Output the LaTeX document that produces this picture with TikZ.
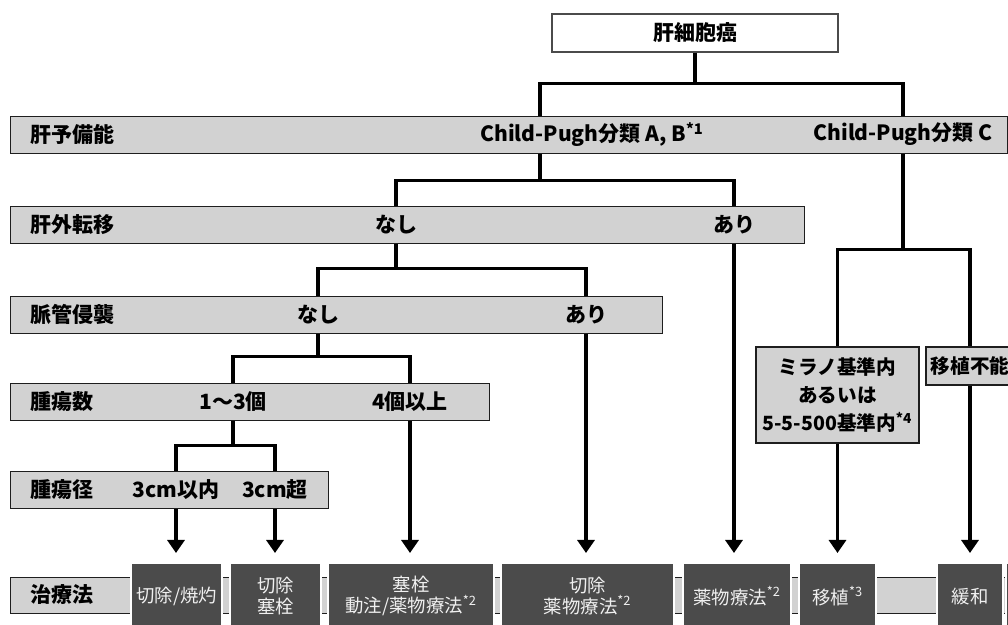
\documentclass[tikz,border=0pt]{standalone}
\usepackage{fontspec}
\setmainfont{Noto Sans CJK JP}
\usepackage{tikz}
\usetikzlibrary{arrows.meta,positioning}
\definecolor{BarGray}{HTML}{D2D2D2}
\definecolor{BoxDark}{HTML}{4B4B4B}
\definecolor{Edge}{HTML}{1E1E1E}
\tikzset{
  bar/.style={draw=Edge,line width=0.7pt,fill=BarGray,anchor=north west,
    inner sep=0pt,minimum height=18.5pt},
  lbl/.style={font=\fontsize{10.5}{12}\selectfont\bfseries,inner sep=0pt,text=black},
  crit/.style={draw=Edge,line width=0.7pt,fill=BarGray,inner sep=0pt,align=center,
    font=\fontsize{9.8}{14.2}\selectfont\bfseries},
  therapy/.style={draw=white,line width=1.2pt,fill=BoxDark,text=white!94!black,
    anchor=north west,inner sep=0pt,minimum height=33pt,align=center,
    font=\fontsize{9.2}{10.4}\selectfont},
  conn/.style={line width=1.6pt,draw=black},
  arr/.style={conn,-{Triangle[length=6.5pt,width=8.5pt]},shorten >=4.5pt}
}
\begin{document}
\begin{tikzpicture}[x=0.5pt,y=-0.5pt]
  \useasboundingbox (0,0) rectangle (1008,625);
  \clip (0,0) rectangle (1008,625);
  % top box
  \node[draw=Edge!80,line width=0.6pt,fill=white,minimum width=143pt,minimum height=19pt,
    inner sep=0pt,lbl] (hcc) at (695,33) {肝細胞癌};
  % criteria bars
  \node[bar,minimum width=498.5pt] (r1) at (10,116) {};
  \node[bar,minimum width=397pt] (r2) at (10,206) {};
  \node[bar,minimum width=326pt] (r3) at (10,296) {};
  \node[bar,minimum width=239.5pt] (r4) at (10,383) {};
  \node[bar,minimum width=159pt] (r5) at (10,471) {};
  \node[bar,minimum width=530pt,minimum height=18pt] (r6) at (10,577) {};
  \node[lbl,anchor=west] (lbl1) at (30,134.5) {肝予備能};
  \node[lbl,anchor=west] (lbl2) at (30,224.5) {肝外転移};
  \node[lbl,anchor=west] (lbl3) at (30,314.5) {脈管侵襲};
  \node[lbl,anchor=west] (lbl4) at (30,401.5) {腫瘍数};
  \node[lbl,anchor=west] (lbl5) at (30,489.5) {腫瘍径};
  \node[lbl,anchor=west] (lbl6) at (30,595) {治療法};
  % branch labels
  \node[lbl,anchor=west] (cpab) at (480,134.5) {Child-Pugh分類 A, B\textsuperscript{*1}};
  \coordinate (abx) at (540,134.5);
  \node[lbl] (cpc) at (903,134.5) {Child-Pugh分類 C};
  \node[lbl] (emno) at (396,224.5) {なし};
  \node[lbl] (emyes) at (734,224.5) {あり};
  \node[lbl] (vino) at (318,314.5) {なし};
  \node[lbl] (viyes) at (586,314.5) {あり};
  \node[lbl] (few) at (233,401.5) {1〜3個};
  \node[lbl] (many) at (410,401.5) {4個以上};
  \node[lbl] (small) at (176,489.5) {3cm以内};
  \node[lbl] (large) at (275,489.5) {3cm超};
  \node[crit,minimum width=81.5pt,minimum height=48pt] (milan) at (837.5,395)
    {ミラノ基準内\\あるいは\\5-5-500基準内\textsuperscript{*4}};
  \node[crit,minimum width=44pt,minimum height=19pt] (ntx) at (970,366) {移植不能};
  % treatments
  \node[therapy,minimum width=45.5pt] (t1) at (130,562) {切除/焼灼};
  \node[therapy,minimum width=45.5pt] (t2) at (229,562) {切除\\塞栓};
  \node[therapy,minimum width=83pt] (t3) at (327,562) {塞栓\\動注/薬物療法\textsuperscript{*2}};
  \node[therapy,minimum width=86.5pt] (t4) at (500,562) {切除\\薬物療法\textsuperscript{*2}};
  \node[therapy,minimum width=54pt] (t5) at (682,562) {薬物療法\textsuperscript{*2}};
  \node[therapy,minimum width=38.5pt] (t6) at (798,562) {移植\textsuperscript{*3}};
  \node[therapy,minimum width=33pt] (t7) at (936,562) {緩和};
  \node[therapy,minimum width=33pt] (t8) at (1005,562) {};
  % connectors
  \draw[conn] (hcc.south) -- ++(0,31) -| (r1.north -| abx);
  \draw[conn] (hcc.south) ++(0,31) -| (r1.north -| cpc);
  \draw[conn] (r1.south -| abx) -- ++(0,26) -| (r2.north -| emno);
  \draw[conn] (r1.south -| abx) ++(0,26) -| (r2.north -| emyes);
  \draw[conn] (r2.south -| emno) -- ++(0,24) -| (r3.north -| vino);
  \draw[conn] (r2.south -| emno) ++(0,24) -| (r3.north -| viyes);
  \draw[conn] (r3.south -| vino) -- ++(0,22) -| (r4.north -| few);
  \draw[conn] (r3.south -| vino) ++(0,22) -| (r4.north -| many);
  \draw[conn] (r4.south -| few) -- ++(0,24) -| (r5.north -| small);
  \draw[conn] (r4.south -| few) ++(0,24) -| (r5.north -| large);
  \draw[conn] (r1.south -| cpc) -- ++(0,95) -| (milan.north);
  \draw[conn] (r1.south -| cpc) ++(0,95) -| (ntx.north);
  \draw[arr] (r5.south -| small) -- (t1.north -| small);
  \draw[arr] (r5.south -| large) -- (t2.north -| large);
  \draw[arr] (r4.south -| many) -- (t3.north -| many);
  \draw[arr] (r3.south -| viyes) -- (t4.north -| viyes);
  \draw[arr] (r2.south -| emyes) -- (t5.north -| emyes);
  \draw[arr] (milan.south) -- (t6.north -| milan);
  \draw[arr] (ntx.south) -- (t7.north -| ntx);
\end{tikzpicture}
\end{document}
